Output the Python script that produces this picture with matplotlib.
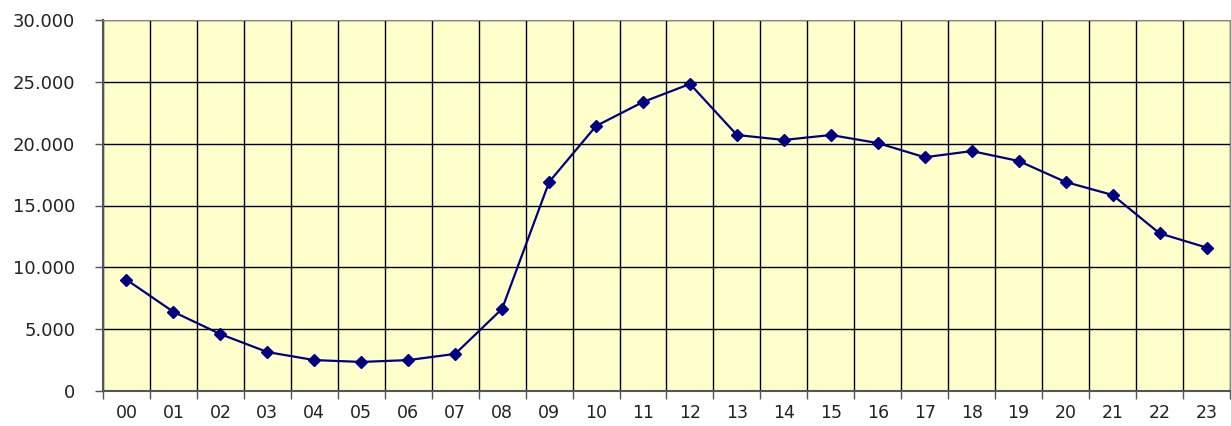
import numpy as np
import matplotlib.pyplot as plt
from matplotlib.ticker import FuncFormatter, FixedLocator

hours = ["00", "01", "02", "03", "04", "05", "06", "07", "08", "09", "10", "11",
         "12", "13", "14", "15", "16", "17", "18", "19", "20", "21", "22", "23"]
counts = [9000, 6400, 4600, 3150, 2500, 2350, 2500, 3000, 6650, 16900, 21430, 23370,
          24830, 20700, 20300, 20700, 20050, 18900, 19400, 18600, 16900, 15850, 12750, 11600]

dpi = 100
fig = plt.figure(figsize=(12.31, 4.26), dpi=dpi)
ax = fig.add_axes([103 / 1231, 35 / 426, 1127 / 1231, 371 / 426])
ax.set_facecolor("#FFFFCC")

x = np.arange(len(hours))
ax.plot(x, counts, color="#000080", lw=1.6, marker="D", ms=6.5, zorder=3)

ax.set_xlim(-0.5, len(hours) - 0.5)
ax.set_ylim(0, 30000)

# ticks at category boundaries, labels centred
ax.xaxis.set_major_locator(FixedLocator(np.arange(-0.5, len(hours), 1)))
ax.set_xticklabels([])
ax.set_xticks(x, minor=True)
ax.set_xticklabels(hours, minor=True)
ax.tick_params(axis="x", which="minor", length=0, pad=9, labelsize=12.5)
ax.tick_params(axis="x", which="major", length=6, width=1, color="#555555")

ax.set_yticks(np.arange(0, 30001, 5000))
ax.yaxis.set_major_formatter(FuncFormatter(lambda v, p: f"{int(v):,}".replace(",", ".")))
ax.tick_params(axis="y", length=6, width=1, color="#555555", pad=14, labelsize=13)

ax.grid(True, which="major", color="black", lw=1)
ax.set_axisbelow(True)

for s in ["top", "right"]:
    ax.spines[s].set_color("#888888")
for s in ["left", "bottom"]:
    ax.spines[s].set_color("#555555")
    ax.spines[s].set_linewidth(1.5)

for lab in ax.get_xticklabels(minor=True) + ax.get_yticklabels():
    lab.set_color("#222222")

fig.savefig("out.png", dpi=dpi)
